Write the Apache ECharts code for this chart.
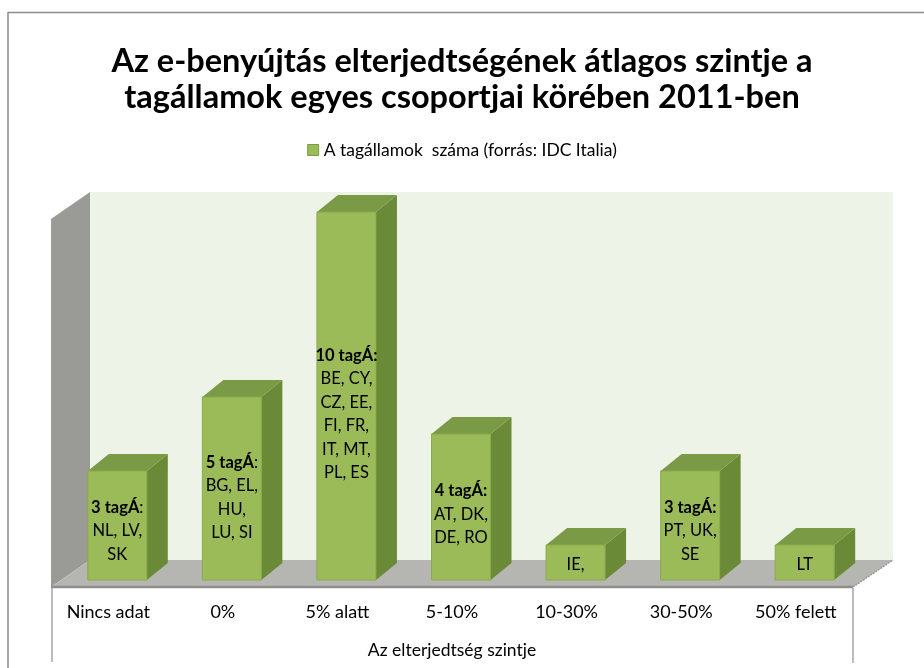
<!DOCTYPE html>
<html><head><meta charset="utf-8">
<script src="https://cdn.jsdelivr.net/npm/echarts@6/dist/echarts.min.js"></script>
<style>html,body{margin:0;padding:0;background:#fff}#c{width:924px;height:668px}</style>
</head><body><div id="c"></div>
<script>
var titleText = 'Az e-benyújtás elterjedtségének átlagos szintje a\ntagállamok egyes csoportjai körében 2011-ben';
var seriesName = 'A tagállamok  száma (forrás: IDC Italia)';
var axisName = 'Az elterjedtség szintje';
var categories = ['Nincs adat', '0%', '5% alatt', '5-10%', '10-30%', '30-50%', '50% felett'];
var values = [3, 5, 10, 4, 1, 3, 1];
var labelHeads = ['3 tagÁ', '5 tagÁ', '10 tagÁ:', '4 tagÁ:', '', '3 tagÁ:', ''];
var labelTails = [':', ':', '', '', '', '', ''];
var memberLines = [
  ['NL, LV,', 'SK'],
  ['BG, EL,', 'HU,', 'LU, SI'],
  ['BE, CY,', 'CZ, EE,', 'FI, FR,', 'IT, MT,', 'PL, ES'],
  ['AT, DK,', 'DE, RO'],
  ['IE,'],
  ['PT, UK,', 'SE'],
  ['LT']
];

var FONT = 'Lato, "Open Sans", sans-serif';
var chart = echarts.init(document.getElementById('c'));

function labelFor(i) {
  var lines = [];
  if (labelHeads[i]) lines.push('{b|' + labelHeads[i] + '}' + (labelTails[i] ? '{n|' + labelTails[i] + '}' : ''));
  memberLines[i].forEach(function (l) { lines.push('{n|' + l + '}'); });
  return lines.join('\n');
}

var DX = 21, DY = -17, HALF = 29.5, SHIFT = 9;
var LFS = 16.5;

function renderItem(params, api) {
  var i = api.value(0);
  var v = api.value(1);
  var top = api.coord([i, v]);
  var base = api.coord([i, 0]);
  var cx = top[0] + SHIFT;
  var x0 = cx - HALF, x1 = cx + HALF;
  var yt = top[1], yb = base[1] - 2;
  var h = yb - yt;
  return {
    type: 'group',
    children: [
      { type: 'polygon', shape: { points: [[x1, yt], [x1 + DX, yt + DY], [x1 + DX, yb + DY], [x1, yb]] },
        style: { fill: '#6a8a38' } },
      { type: 'polygon', shape: { points: [[x0, yt], [x1, yt], [x1 + DX, yt + DY], [x0 + DX, yt + DY]] },
        style: { fill: '#7b9a45' } },
      { type: 'rect', shape: { x: x0, y: yt, width: x1 - x0, height: h },
        style: { fill: '#9bbb59', stroke: '#8aaa4b', lineWidth: 1 } },
      { type: 'text', x: cx, y: yb - h * 0.45,
        style: {
          text: labelFor(i), align: 'center', verticalAlign: 'middle',
          fill: '#000', font: LFS + 'px ' + FONT, lineHeight: 23.5,
          rich: {
            b: { fontWeight: 'bold', fontSize: LFS, fontFamily: FONT, lineHeight: 23.5, fill: '#000' },
            n: { fontSize: LFS, fontFamily: FONT, lineHeight: 23.5, fill: '#000' }
          }
        }, z2: 10 }
    ]
  };
}

var option = {
  animation: false,
  backgroundColor: '#fff',
  title: {
    text: titleText, left: 'center', top: 39,
    textStyle: { fontFamily: FONT, fontWeight: 'bold', fontSize: 32.5, lineHeight: 36, color: '#000' }
  },
  legend: {
    top: 136, left: 'center', icon: 'rect', itemWidth: 11, itemHeight: 11, itemGap: 4,
    textStyle: { fontFamily: FONT, fontSize: 17.5, color: '#000' },
    data: [{ name: seriesName, itemStyle: { color: '#9bbb59', borderColor: '#7b9a45', borderWidth: 1 } }]
  },
  grid: { left: 51, right: 71, top: 212, bottom: 86 },
  xAxis: {
    type: 'category', data: categories, boundaryGap: true,
    axisLine: { show: false }, axisTick: { show: false }, splitLine: { show: false },
    axisLabel: { margin: 21, fontFamily: FONT, fontSize: 18, color: '#000', interval: 0 },
    name: axisName, nameLocation: 'middle', nameGap: 59,
    nameTextStyle: { fontFamily: FONT, fontSize: 17.5, color: '#000' }
  },
  yAxis: { type: 'value', min: 0, max: 10, show: false },
  graphic: [
    { type: 'line', shape: { x1: 8, y1: 12.5, x2: 924, y2: 12.5 }, style: { stroke: '#8c8c8c', lineWidth: 1.5 }, z: -20 },
    { type: 'line', shape: { x1: 8, y1: 12, x2: 8, y2: 668 }, style: { stroke: '#8c8c8c', lineWidth: 1.5 }, z: -20 },
    { type: 'rect', shape: { x: 90, y: 192, width: 803, height: 368 }, style: { fill: '#eef3e8' }, z: -10 },
    { type: 'polygon', shape: { points: [[51, 219], [90, 192], [90, 560], [51, 587]] }, style: { fill: '#9a9b97' }, z: -9 },
    { type: 'polygon', shape: { points: [[51, 587], [90, 560], [893, 560], [853, 587]] }, style: { fill: '#b5b6b1' }, z: -9 },
    { type: 'line', shape: { x1: 853, y1: 587, x2: 893, y2: 560 }, style: { stroke: '#9a9a9a', lineWidth: 1.5, lineDash: [2, 1] }, z: -8 },
    { type: 'line', shape: { x1: 51, y1: 587, x2: 853, y2: 587 }, style: { stroke: '#8e8e8e', lineWidth: 2.5 }, z: -8 },
    { type: 'line', shape: { x1: 52, y1: 588, x2: 52, y2: 662 }, style: { stroke: '#a6a6a6', lineWidth: 1.5 }, z: -8 },
    { type: 'line', shape: { x1: 853, y1: 588, x2: 853, y2: 663 }, style: { stroke: '#a6a6a6', lineWidth: 1.5 }, z: -8 }
  ],
  series: [{
    name: seriesName, type: 'custom', renderItem: renderItem,
    itemStyle: { color: '#9bbb59' },
    encode: { x: 0, y: 1 },
    data: values.map(function (v, i) { return [i, v]; })
  }]
};
chart.setOption(option);
</script></body></html>
